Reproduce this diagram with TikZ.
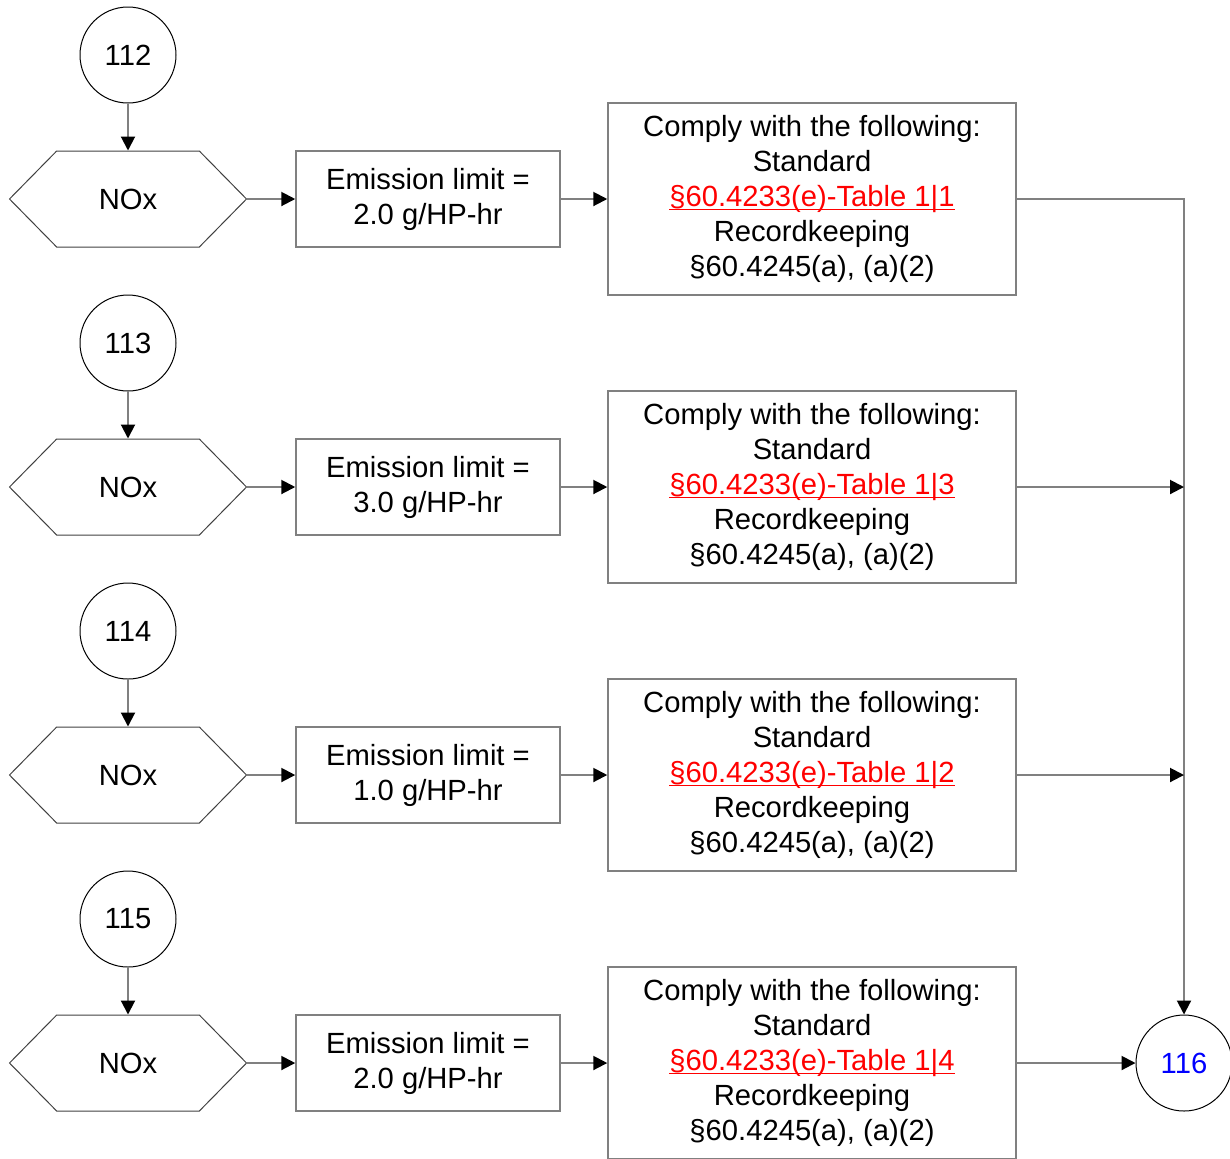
\documentclass[tikz,border=0pt]{standalone}
\usepackage{fontspec}
\setmainfont{Liberation Sans}
\usetikzlibrary{arrows.meta,shapes.symbols}
\definecolor{lineCol}{HTML}{808080}
\definecolor{edgeCol}{HTML}{404040}
\definecolor{refRed}{HTML}{FF0000}
\definecolor{refBlue}{HTML}{0000FF}
\newcommand{\reflink}[1]{\textcolor{refRed}{\underline{\smash{#1}}}}
\tikzset{
  conn/.style={circle, draw=black, line width=0.5pt, minimum size=48pt, inner sep=0pt,
        font=\fontsize{14.6}{17.5}\selectfont},
  pollut/.style={signal, signal to=east and west, signal pointer angle=91, draw=edgeCol,
        line width=0.5pt, minimum width=118.5pt, minimum height=48pt, inner sep=0pt,
        font=\fontsize{14.6}{17.5}\selectfont},
  limbox/.style={draw=lineCol, line width=0.75pt, align=center, minimum width=132pt,
        minimum height=48pt, inner sep=0pt, font=\fontsize{14.6}{17.5}\selectfont},
  rulebox/.style={draw=lineCol, line width=0.75pt, align=center, minimum width=204pt,
        minimum height=96pt, inner sep=0pt, font=\fontsize{14.6}{17.5}\selectfont},
  flow/.style={-{Triangle[length=7pt,width=7pt,color=black]}, draw=lineCol, line width=1pt},
}

\begin{document}
\begin{tikzpicture}[x=0.5pt,y=-0.5pt]
  \useasboundingbox (0,0) rectangle (1230,1158);
  % --- one row per off-page connector ---
  \foreach \n/\r/\lim/\tab in {112/0/2.0/1, 113/1/3.0/3, 114/2/1.0/2, 115/3/2.0/4} {
    \node[conn] (c\n) at (128,55+288*\r) {\n};
    \node[pollut] (nox\n) at (128,199+288*\r) {NOx};
    \node[limbox] (lim\n) at (428,199+288*\r) {Emission limit =\\\lim\ g/HP-hr};
    \node[rulebox] (rule\n) at (812,199+288*\r)
         {Comply with the following:\\Standard\\
          \reflink{§60.4233(e)-Table 1|\tab}\\
          Recordkeeping\\§60.4245(a), (a)(2)};
    \draw[flow] (c\n.south) -- (nox\n.north);
    \draw[flow] (nox\n.east) -- (lim\n.west);
    \draw[flow] (lim\n.east) -- (rule\n.west);
  }
  % --- exit connector ---
  \node[conn, text=refBlue] (c116) at (1184,1063) {116};
  \draw[flow] (rule112.east) -| (c116.north);
  \draw[flow] (rule113.east) -- (rule113.east -| c116.center);
  \draw[flow] (rule114.east) -- (rule114.east -| c116.center);
  \draw[flow] (rule115.east) -- (c116.west);
\end{tikzpicture}
\end{document}
